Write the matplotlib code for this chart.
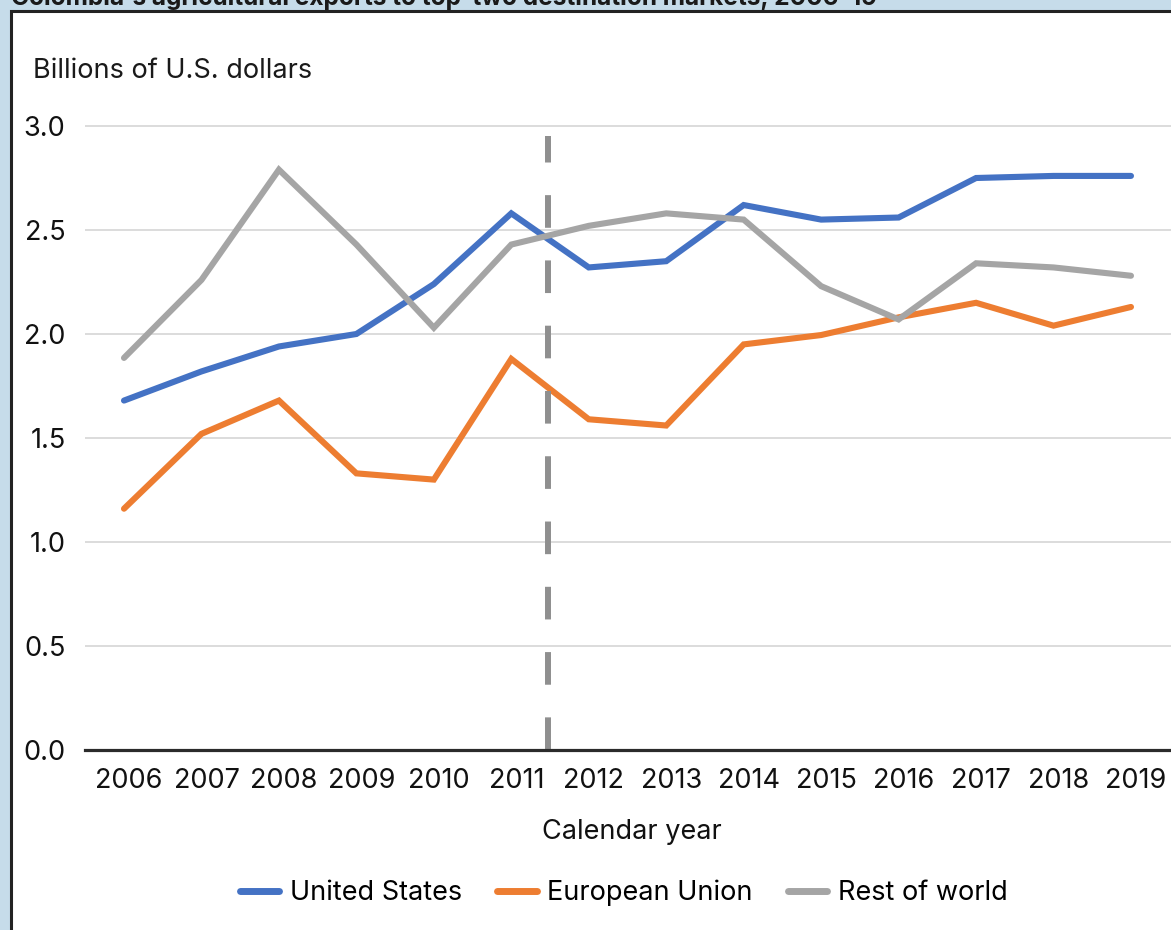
import matplotlib
matplotlib.use("Agg")
import matplotlib.pyplot as plt
import matplotlib.transforms as mtransforms
from matplotlib.patches import Rectangle

years = ["2006", "2007", "2008", "2009", "2010", "2011", "2012",
         "2013", "2014", "2015", "2016", "2017", "2018", "2019"]
united_states = [1.68, 1.82, 1.94, 2.00, 2.24, 2.58, 2.32, 2.35, 2.62, 2.55, 2.56, 2.75, 2.76, 2.76]
european_union = [1.16, 1.52, 1.68, 1.33, 1.30, 1.88, 1.59, 1.56, 1.95, 1.995, 2.08, 2.15, 2.04, 2.13]
rest_of_world = [1.885, 2.26, 2.79, 2.43, 2.03, 2.43, 2.52, 2.58, 2.55, 2.23, 2.07, 2.34, 2.32, 2.28]
series_names = ["United States", "European Union", "Rest of world"]
series_colors = ["#4472c4", "#ed7d31", "#a5a5a5"]
divider_pos = 5.47
title = "Colombia's agricultural exports to top-two destination markets, 2006\u201319"

plt.rcParams['font.family'] = ['Inter', 'DejaVu Sans']
plt.rcParams['lines.scale_dashes'] = False

FS = 19.5
W, H = 1171, 930
fig = plt.figure(figsize=(W / 100, H / 100), dpi=100)
fig.patch.set_facecolor("#c6dcea")

# white panel with dark border
panel = Rectangle((11 / W, -0.1), 1.2, (H - 11) / H + 0.1,
                  transform=fig.transFigure, facecolor="white",
                  edgecolor="#222222", linewidth=2.2, zorder=-5)
fig.patches.append(panel)
fig.text(11 / W, 1 - 5 / H, title, fontsize=17.6, fontweight="bold",
         color="#1a1a1a", ha="left", va="baseline", zorder=-4)

# axes geometry in pixels
x0_px, dx_px = 124, 77.46
ax_left, ax_right = 85, 1171
y0_px, dy_px = 750, 208
ymax = 3.1
ax = fig.add_axes([ax_left / W, (H - y0_px) / H, (ax_right - ax_left) / W,
                   ymax * dy_px / H])
ax.set_zorder(2)
ax.set_facecolor("none")
ax.set_xlim((ax_left - x0_px) / dx_px, (ax_right - x0_px) / dx_px)
ax.set_ylim(0, ymax)

x = list(range(len(years)))
for vals, name, col in zip([united_states, european_union, rest_of_world],
                           series_names, series_colors):
    ax.plot(x, vals, color=col, lw=4.4, label=name, solid_capstyle="round",
            solid_joinstyle="miter", zorder=3)

ax.plot([divider_pos, divider_pos], [0, 2.95], color="#8f8f8f", lw=4.3,
        dashes=(23.5, 23.5), zorder=4, dash_capstyle="butt")

ax.set_yticks([0, 0.5, 1.0, 1.5, 2.0, 2.5, 3.0])
ax.set_yticklabels(["0.0", "0.5", "1.0", "1.5", "2.0", "2.5", "3.0"])
ax.grid(axis="y", color="#d9d9d9", lw=1.3, zorder=0)
ax.set_axisbelow(True)
ax.set_xticks(x)
ax.set_xticklabels(years)
ax.tick_params(axis="both", length=0, labelsize=FS, labelcolor="#111111")
ax.tick_params(axis="x", pad=13)
ax.tick_params(axis="y", pad=14)
offset = mtransforms.ScaledTranslation(5 / 100, 0, fig.dpi_scale_trans)
for lab in ax.get_xticklabels():
    lab.set_transform(lab.get_transform() + offset)
for s in ["top", "right", "left"]:
    ax.spines[s].set_visible(False)
ax.spines["bottom"].set_color("#2b2b2b")
ax.spines["bottom"].set_linewidth(2.3)
ax.spines["bottom"].set_zorder(5)

fig.text(33 / W, 1 - 71 / H, "Billions of U.S. dollars", fontsize=FS,
         color="#1a1a1a", ha="left", va="center")
fig.text(632 / W, 1 - 832 / H, "Calendar year", fontsize=FS,
         color="#111111", ha="center", va="center")

leg = fig.legend(loc="center", bbox_to_anchor=(624 / W, 1 - 893 / H),
                 ncol=3, frameon=False, fontsize=FS, handlelength=1.45,
                 handletextpad=0.4, columnspacing=1.3)
for h in leg.get_lines():
    h.set_solid_capstyle("round")
    h.set_linewidth(5)

fig.savefig("out.png", dpi=100, facecolor=fig.get_facecolor())
